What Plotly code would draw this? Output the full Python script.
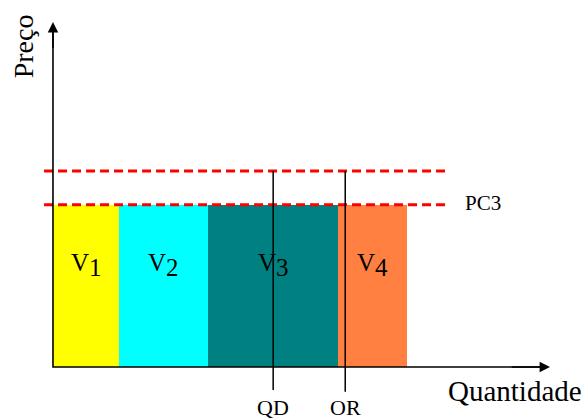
import plotly.graph_objects as go

# ---- data (quantity / price units) ----
bar_labels = ["1", "2", "3", "4"]
bar_widths = [13.3, 17.9, 26.2, 13.9]
bar_price = 47.0
bar_colors = ["#FFFF00", "#00FFFF", "#008080", "#FF8040"]

price_levels = [56.8, 47.0]      # upper dashed line, PC3
dash_x = [-1.8, 79.7]

vline_names = ["QD", "OR"]
vline_x = [44.3, 58.8]
vline_bottom = [-6.7, -7.2]

axis_max_x = 100
axis_max_y = 100

# ---- build ----
lefts = [sum(bar_widths[:i]) for i in range(len(bar_widths))]
centers = [l + w / 2 for l, w in zip(lefts, bar_widths)]

fig = go.Figure()
fig.add_trace(go.Bar(
    x=centers, y=[bar_price] * len(bar_widths), width=bar_widths,
    marker=dict(color=bar_colors, line=dict(width=0)), hoverinfo="skip"))

for p in price_levels:
    fig.add_trace(go.Scatter(x=dash_x, y=[p, p], mode="lines",
                             line=dict(color="#FF0000", width=3, dash="9px,5px"),
                             hoverinfo="skip"))

for xv, yb in zip(vline_x, vline_bottom):
    fig.add_trace(go.Scatter(x=[xv, xv], y=[yb, price_levels[0]], mode="lines",
                             line=dict(color="black", width=1.5), hoverinfo="skip"))

# axes lines
fig.add_trace(go.Scatter(x=[0, 0, axis_max_x - 2], y=[axis_max_y - 3, 0, 0], mode="lines",
                         line=dict(color="black", width=1.6), hoverinfo="skip"))

ann = []
# arrow heads
ann.append(dict(x=0, y=axis_max_y, ax=0, ay=axis_max_y - 8, xref="x", yref="y", axref="x", ayref="y",
                showarrow=True, arrowhead=2, arrowsize=1.3, arrowwidth=1.6, arrowcolor="black",
                text="", standoff=0, startstandoff=0))
ann.append(dict(x=axis_max_x, y=0, ax=axis_max_x - 8, ay=0, xref="x", yref="y", axref="x", ayref="y",
                showarrow=True, arrowhead=2, arrowsize=1.3, arrowwidth=1.6, arrowcolor="black",
                text="", standoff=0, startstandoff=0))

serif = "Liberation Serif"
for c, lab in zip(centers, bar_labels):
    ann.append(dict(x=c, y=29.5, xref="x", yref="y", showarrow=False,
                    text="V<sub><span style='font-size:25px'>%s</span></sub>" % lab,
                    font=dict(family=serif, size=25, color="black")))

for name, xv in zip(vline_names, vline_x):
    ann.append(dict(x=xv, y=-11.6, xref="x", yref="y", showarrow=False, text=name,
                    font=dict(family=serif, size=22, color="black")))

ann.append(dict(x=82.5, y=47.6, xref="x", yref="y", showarrow=False, text="PC3",
                xanchor="left", font=dict(family=serif, size=21, color="black")))
ann.append(dict(x=79.0, y=-7.0, xref="x", yref="y", showarrow=False, text="Quantidade",
                xanchor="left", font=dict(family=serif, size=29, color="black")))
ann.append(dict(x=-6.0, y=93.0, xref="x", yref="y", showarrow=False, text="Preço", textangle=-90,
                font=dict(family=serif, size=28, color="black")))

fig.update_layout(
    width=585, height=419, margin=dict(l=0, r=0, t=0, b=0),
    paper_bgcolor="white", plot_bgcolor="white", showlegend=False,
    xaxis=dict(range=[-10.66, 107.04], visible=False, fixedrange=True),
    yaxis=dict(range=[-15.07, 106.38], visible=False, fixedrange=True),
    annotations=ann, bargap=0)

fig.write_html("out.html", config={"displayModeBar": False},
               post_script="document.body.style.margin='0';")
